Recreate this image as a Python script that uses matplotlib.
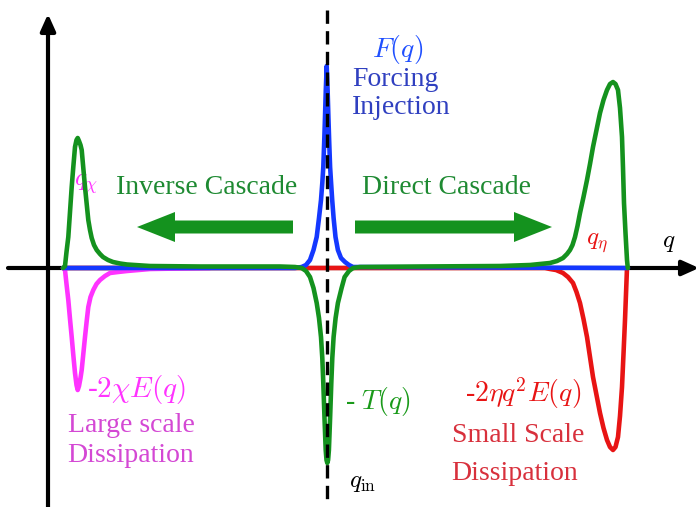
import matplotlib.pyplot as plt
from matplotlib.patches import FancyArrow

plt.rcParams['font.family'] = ['Liberation Serif', 'DejaVu Serif']
plt.rcParams['mathtext.fontset'] = 'cm'

# curves sampled by hand: q position and amplitude (baseline = 0)
green_q = [63, 65, 66.5, 68.3, 70, 71.7, 73.3, 75, 76.5, 77.7, 79, 80.5, 81.7, 83.3, 85,
           86.7, 88.3, 90, 91.7, 94, 96.7, 100, 103, 108, 113, 120, 127, 150, 200, 280,
           295, 301.7, 306, 310, 313.5, 316.7, 319, 321, 322.3, 323.3, 324.5, 325.7, 326.5,
           327.3, 328.1, 328.9, 330.1, 331.3, 332.3, 333.6, 335.6, 337.9, 341.6, 344.6,
           349, 353, 360, 420, 500, 530, 550, 557, 563, 567, 570, 572.5, 575, 577.5, 580,
           583.5, 587, 590, 593, 596.5, 600, 603.5, 607, 610, 613, 615.5, 618, 620, 622,
           623, 624, 625.5, 627, 627.8]
green_v = [0, 2, 16, 31, 56, 81, 101, 121, 128, 130, 127, 123, 118, 100, 81,
           64, 48, 38, 30, 23, 18, 14, 11, 8, 6, 4.5, 3.5, 2, 1.5, 1.5,
           1, 0, -3, -9, -20, -35, -50, -69, -90, -115, -150, -182, -192,
           -195, -192, -182, -150, -115, -90, -69, -50, -35, -20, -9,
           -3, 0, 1, 1.5, 2, 3, 5, 7, 10, 14, 18, 23, 31, 42, 55,
           71, 88, 104, 121, 138, 155, 168, 178, 184, 186, 184, 178, 160, 131,
           100, 65, 35, 8, 0]

blue_q = [63, 295, 301.7, 306, 310, 313.5, 316.7, 319, 321, 322.3, 323.3, 324.2, 325,
          325.8, 326.7, 327.6, 328.4, 329.2, 330.1, 331.1, 332.2, 333.6, 335.5, 337.9,
          341, 345, 349, 353, 628]
blue_v = [0, 0, 1, 3, 8, 18, 31, 50, 68, 85, 101, 126, 151, 178, 202, 178, 151, 126,
          101, 85, 68, 50, 31, 18, 10, 6, 3, 1, 0]

red_q = [63, 545, 550, 556, 563, 568, 573, 576.5, 580, 583.5, 587, 590, 593, 596.5, 600,
         603.5, 607, 610, 613, 615.5, 618, 620, 622, 623.5, 625, 626, 627]
red_v = [0, 0, -1, -2, -5, -9, -15, -24, -35, -51, -69, -89, -109, -127, -145,
         -160, -172, -179, -182, -179, -169, -148, -119, -86, -52, -26, 0]

mag_q = [63, 65, 66.5, 68.3, 70, 71.7, 73.3, 75, 76.5, 77.7, 79, 80.5, 81.7, 83.3, 85,
         86.7, 88.3, 90.5, 93.3, 96.5, 100, 105, 110, 118, 127, 150, 210]
mag_v = [0, -2, -16, -32, -51, -69, -87, -105, -117, -122, -118, -110, -102, -86, -69,
         -53, -39, -29, -22, -16, -12, -8, -5, -4, -3, -1, 0]

q_in = 327

GREEN = '#14921e'
BLUE = '#1438ff'
RED = '#e81414'
MAGENTA = '#ff33ff'

fig = plt.figure(figsize=(7, 5.07), dpi=100)
ax = fig.add_axes([0, 0, 1, 1])
ax.set_xlim(0, 700)
ax.set_ylim(-239, 268)
ax.axis('off')

# axes with arrow heads
ax.annotate('', xy=(699, 0), xytext=(8, 0),
            arrowprops=dict(arrowstyle='-|>,head_length=1.0,head_width=0.45',
                            lw=3, color='black', shrinkA=0, shrinkB=0))
ax.annotate('', xy=(48, 254), xytext=(48, -239),
            arrowprops=dict(arrowstyle='-|>,head_length=1.0,head_width=0.45',
                            lw=3, color='black', shrinkA=0, shrinkB=0))

lw = 3.3
ax.plot(red_q, red_v, color=RED, lw=lw, solid_capstyle='round', solid_joinstyle='round', zorder=3)
ax.plot(mag_q, mag_v, color=MAGENTA, lw=lw, solid_capstyle='round', solid_joinstyle='round', zorder=3)
ax.plot(blue_q, blue_v, color=BLUE, lw=lw, solid_capstyle='round', solid_joinstyle='round', zorder=4)
ax.plot(green_q, green_v, color=GREEN, lw=lw, solid_capstyle='round', solid_joinstyle='round', zorder=5)

# injection scale
ax.plot([q_in, q_in], [258, -232], color='black', lw=2.4, dashes=[4, 2.2], zorder=6)

# cascade arrows
ax.add_patch(FancyArrow(293, 41, -156, 0, width=13, head_width=30, head_length=38,
                        length_includes_head=True, color=GREEN, lw=0))
ax.add_patch(FancyArrow(355, 41, 197, 0, width=13, head_width=30, head_length=38,
                        length_includes_head=True, color=GREEN, lw=0))

fs = 20
ax.text(207, 80, 'Inverse Cascade', color='#1e8a32', fontsize=fs, ha='center', va='center')
ax.text(446, 80, 'Direct Cascade', color='#1e8a32', fontsize=fs, ha='center', va='center')

ax.text(398, 218, r'$F(q)$', color='#2050ff', fontsize=20, ha='center', va='center')
ax.text(352, 188, 'Forcing', color='#3040c0', fontsize=fs, ha='left', va='center')
ax.text(352, 160, 'Injection', color='#3040c0', fontsize=fs, ha='left', va='center')

ax.text(86, 84, r'$q_\chi$', color=MAGENTA, fontsize=18, ha='center', va='center')
ax.text(597, 25, r'$q_\eta$', color=RED, fontsize=18, ha='center', va='center')
ax.text(669, 25, r'$q$', color='black', fontsize=18, ha='center', va='center')
ax.text(363, -215, r'$q_{\rm in}$', color='black', fontsize=18, ha='center', va='center')

ax.text(136, -121, r'-$2\chi E(q)$', color=MAGENTA, fontsize=21, ha='center', va='center')
ax.text(131, -158, 'Large scale', color='#d448d4', fontsize=fs, ha='center', va='center')
ax.text(131, -187, 'Dissipation', color='#d448d4', fontsize=fs, ha='center', va='center')

ax.text(378, -134, r'- $T(q)$', color='#1a9a1a', fontsize=20, ha='center', va='center')

ax.text(523, -125, r'-$2\eta q^2 E(q)$', color=RED, fontsize=20, ha='center', va='center')
ax.text(518, -167, 'Small Scale', color='#d8303c', fontsize=fs, ha='center', va='center')
ax.text(515, -206, 'Dissipation', color='#d8303c', fontsize=fs, ha='center', va='center')

fig.savefig('out.png', dpi=100)
